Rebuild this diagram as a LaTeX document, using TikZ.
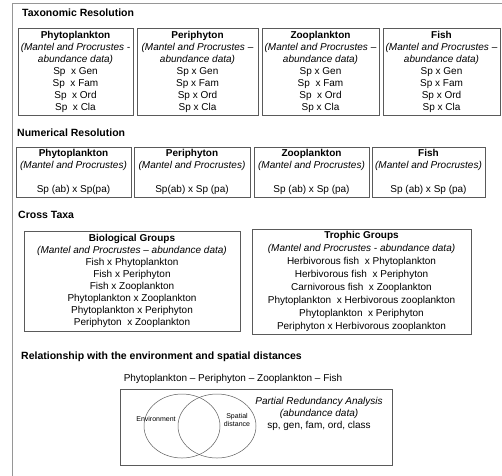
\documentclass[tikz,border=0pt]{standalone}
\usepackage{fontspec}
\setmainfont{Liberation Sans}
\usetikzlibrary{shapes.geometric}
\usepackage{xcolor}

\definecolor{framegray}{RGB}{150,150,150}
\definecolor{boxgray}{RGB}{90,90,90}

\newcommand{\itl}[1]{\textit{#1}}

\begin{document}
\begin{tikzpicture}[x=1pt,y=-1pt,
  every node/.style={inner sep=0pt, font=\fontsize{10}{12}\selectfont},
  head/.style={anchor=west, font=\fontsize{10.5}{12}\selectfont\bfseries},
  box/.style={draw=boxgray, line width=0.6pt, align=center},
  small/.style={font=\fontsize{7}{8.5}\selectfont, align=center}]

\useasboundingbox (0,0) rectangle (502,475);
\clip (0,0) rectangle (502,475);

% outer frame
\draw[framegray, line width=0.8pt] (12,3) rectangle (520,490);

% headings
\node (taxhead) at (22,13) [head] {Taxonomic Resolution};
\node (numhead) at (17,133) [head] {Numerical Resolution};
\node (crosshead) at (18,215) [head] {Cross Taxa};
\node (envhead) at (21,357) [head] {Relationship with the environment and spatial distances};

% taxonomic resolution
\node (taxphyto) at (75.5,71.5) [box, minimum width=115, minimum height=87]
  {\textbf{Phytoplankton}\\ \itl{(Mantel and Procrustes -}\\ \itl{abundance data)}\\ Sp\ \ x Gen\\ Sp\ \ x Fam\\ Sp\ \ x Ord\\ Sp\ \ x Cla};
\node (taxperi) at (197.5,71.5) [box, minimum width=121, minimum height=87]
  {\textbf{Periphyton}\\ \itl{(Mantel and Procrustes –}\\ \itl{abundance data)}\\ Sp x Gen\\ Sp x Fam\\ Sp x Ord\\ Sp x Cla};
\node (taxzoo) at (320.5,71.5) [box, minimum width=117, minimum height=87]
  {\textbf{Zooplankton}\\ \itl{(Mantel and Procrustes –}\\ \itl{abundance data)}\\ Sp x Gen\\ Sp\ \ x Fam\\ Sp\ \ x Ord\\ Sp x Cla};
\node (taxfish) at (441.5,71.5) [box, minimum width=117, minimum height=87]
  {\textbf{Fish}\\ \itl{(Mantel and Procrustes –}\\ \itl{abundance data)}\\ Sp x Gen\\ Sp x Fam\\ Sp x Ord\\ Sp x Cla};

% numerical resolution
\node (numphyto) at (73.5,172) [box, minimum width=115, minimum height=50]
  {\textbf{Phytoplankton}\\ \itl{(Mantel and Procrustes)}\\[12pt] Sp (ab) x Sp(pa)};
\node (numperi) at (192,172) [box, minimum width=116, minimum height=50]
  {\textbf{Periphyton}\\ \itl{(Mantel and Procrustes)}\\[12pt] Sp(ab) x Sp (pa)};
\node (numzoo) at (311.5,172) [box, minimum width=115, minimum height=50]
  {\textbf{Zooplankton}\\ \itl{(Mantel and Procrustes)}\\[12pt] Sp (ab) x Sp (pa)};
\node (numfish) at (428.5,172) [box, minimum width=113, minimum height=50]
  {\textbf{Fish}\\ \itl{(Mantel and Procrustes)}\\[12pt] Sp (ab) x Sp (pa)};

% cross taxa
\node (biogroups) at (132,281) [box, minimum width=216, minimum height=100]
  {\textbf{Biological Groups}\\ \itl{(Mantel and Procrustes – abundance data)}\\ Fish x Phytoplankton\\ Fish x Periphyton\\ Fish x Zooplankton\\ Phytoplankton x Zooplankton\\ Phytoplankton x Periphyton\\ Periphyton\ \ x Zooplankton};
\node (trophgroups) at (361.5,281.5) [box, minimum width=219, minimum height=105, font=\fontsize{10}{13}\selectfont]
  {\textbf{Trophic Groups}\\ \itl{(Mantel and Procrustes - abundance data)}\\ Herbivorous fish\ \ x Phytoplankton\\ Herbivorous fish\ \ x Periphyton\\ Carnivorous fish\ \ x Zooplankton\\ Phytoplankton\ \ x Herbivorous zooplankton\\ Phytoplankton\ \ x Periphyton\\ Periphyton x Herbivorous zooplankton};

% environment and space
\node (taxaline) at (233,379) {Phytoplankton – Periphyton – Zooplankton – Fish};
\node (rdabox) at (256,427) [box, minimum width=272, minimum height=76] {};
\node (envell) at (182,426) [draw=boxgray, line width=0.5pt, ellipse, minimum width=76, minimum height=64] {};
\node (distell) at (217,426) [draw=boxgray, line width=0.5pt, ellipse, minimum width=78, minimum height=64] {};
\node (envlabel) at (156,419) [small] {Environment};
\node (distlabel) at (237,420) [small] {Spatial\\ distance};
\node (rdatext) at (319,414) [align=center]
  {\itl{Partial Redundancy Analysis}\\ \itl{(abundance data)}\\ sp, gen, fam, ord, class};

\end{tikzpicture}
\end{document}
